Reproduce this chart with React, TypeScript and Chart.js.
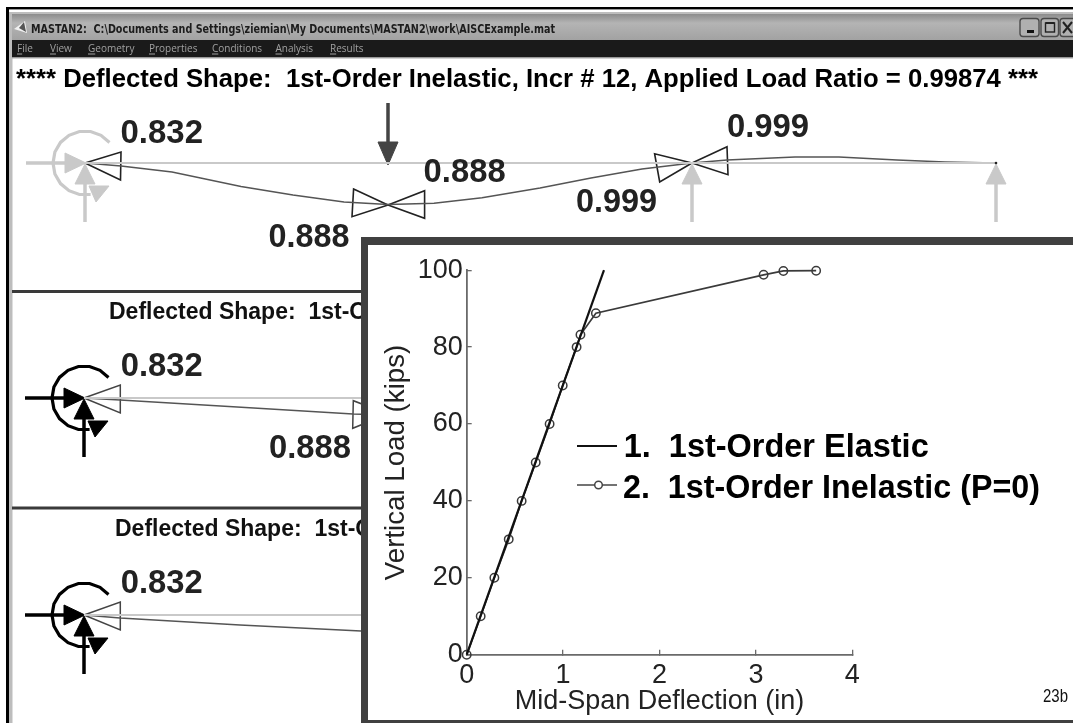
import React, { useEffect, useRef } from "react";
import { Chart, registerables } from "chart.js";

Chart.register(...registerables);

// ---------- load–deflection curves (inset) ----------
const xTicks = [0, 1, 2, 3, 4];
const yTicks = [0, 20, 40, 60, 80, 100];
const elasticDeflection = [0, 1.424];
const elasticLoad = [0, 100];
const inelasticDeflection = [0, 0.145, 0.287, 0.436, 0.57, 0.716, 0.86, 0.996, 1.14, 1.18, 1.34, 3.08, 3.285, 3.625];
const inelasticLoad = [0, 10, 20, 30, 40, 50, 60, 70, 80, 83.2, 88.8, 98.8, 99.8, 99.87];
const legendLabels = ["1.  1st-Order Elastic", "2.  1st-Order Inelastic (P=0)"];
const xAxisTitle = "Mid-Span Deflection (in)";
const yAxisTitle = "Vertical Load (kips)";

// ---------- window texts ----------
const windowTitle = "MASTAN2:  C:\\Documents and Settings\\ziemian\\My Documents\\MASTAN2\\work\\AISCExample.mat";
const menuItems = ["File", "View", "Geometry", "Properties", "Conditions", "Analysis", "Results"];
const menuStops = [17, 50, 88, 149, 212, 275.5, 330];
const panelTitle = "**** Deflected Shape:  1st-Order Inelastic, Incr # 12, Applied Load Ratio = 0.99874 ***";
const subTitle = "Deflected Shape:  1st-Order Inelastic";

// ---------- frame schematic, in sheet units ----------
const curve1X = [85, 121, 172, 241, 293, 344, 388, 434, 482, 540, 591, 642, 692, 727, 795, 839, 897, 945, 996];
const curve1Y = [163, 166, 172, 186.5, 195, 202, 204.5, 203.3, 197.7, 188, 178, 169, 163, 160, 157, 157, 160, 162, 163];
const curve2X = [84, 120, 233, 353, 388];
const curve2Y = [398, 400, 406.7, 414, 415];
const curve3X = [84, 120, 240, 361];
const curve3Y = [615, 618, 625, 631];

const arcX = [24.5, 16, 5.6, -5.6, -16, -24.5, -30.1, -32, -30.1, -24.5, -16, -5.6, 5.6];
const arcY = [-20.6, -27.7, -31.5, -31.5, -27.7, -20.6, -11, 0, 11, 20.6, 27.7, 31.5, 31.5];
const arcHeadX = [4, 24, 11, 4];
const arcHeadY = [23, 23, 39, 23];
const pushShaftX = [-59, -20];
const pushShaftY = [0, 0];
const pushHeadX = [-20, 1, -20, -20];
const pushHeadY = [-10, 0, 10, -10];
const liftShaftX = [0, 0];
const liftShaftY = [59, 20];
const liftHeadX = [-10, 0, 10, -10];
const liftHeadY = [21, 1, 21, 21];
const dropShaftX = [0, 0];
const dropShaftY = [-60, -20];
const dropHeadX = [-10, 0, 10, -10];
const dropHeadY = [-21, 2, -21, -21];

const hingeEndX = [85, 121, 120.5, 85];
const hingeEndY = [163, 152, 180, 163];
const hingeMidLX = [388, 353.6, 352, 388];
const hingeMidLY = [205, 189, 216.7, 205];
const hingeMidRX = [388, 424.6, 424.6, 388];
const hingeMidRY = [205, 190.7, 218.3, 205];
const hingeRightLX = [692, 654.6, 659.7, 692];
const hingeRightLY = [163, 153.7, 182, 163];
const hingeRightRX = [692, 727, 728, 692];
const hingeRightRY = [163, 146.7, 174.7, 163];
const hinge2X = [84, 120.3, 120.3, 84];
const hinge2Y = [398, 385, 413, 398];
const hinge2MidX = [388, 353.3, 352.7, 388];
const hinge2MidY = [414, 400.7, 428.3, 414];
const hinge3X = [84, 120.3, 120.3, 84];
const hinge3Y = [615, 602, 630, 615];

type Lbl = [string, number, number, number];
const ratioLabels: Lbl[] = [
  ["0.832", 120.5, 142.8, 82.5],
  ["0.888", 423.6, 181.7, 82],
  ["0.888", 268.6, 246.7, 81],
  ["0.999", 727, 137, 82],
  ["0.999", 576, 211.7, 81],
  ["0.832", 120.7, 375.7, 82],
  ["0.888", 269, 457.7, 82],
  ["0.832", 120.7, 593.3, 82],
];

const BOLD = "'Liberation Sans', Arial, sans-serif";

const pts = (xs: number[], ys: number[], dx = 0, dy = 0) =>
  xs.map((x, i) => ({ x: x + dx, y: ys[i] + dy }));

const stroke = (data: any[], color: string, width: number) => ({
  data,
  showLine: true,
  borderColor: color,
  borderWidth: width,
  pointRadius: 0,
  fill: false,
  borderCapStyle: "butt" as const,
  borderJoinStyle: "miter" as const,
});
const solid = (data: any[], color: string) => ({
  ...stroke(data, color, 1),
  fill: "shape",
  backgroundColor: color,
});

const support = (color: string, dx: number, dy: number) => [
  stroke(pts(arcX, arcY, dx, dy), color, 3.2),
  solid(pts(arcHeadX, arcHeadY, dx, dy), color),
  stroke(pts(pushShaftX, pushShaftY, dx, dy), color, 3.5),
  solid(pts(pushHeadX, pushHeadY, dx, dy), color),
  stroke(pts(liftShaftX, liftShaftY, dx, dy), color, 3.5),
  solid(pts(liftHeadX, liftHeadY, dx, dy), color),
];
const roller = (color: string, dx: number, dy: number) => [
  stroke(pts(liftShaftX, liftShaftY, dx, dy), color, 3.5),
  solid(pts(liftHeadX, liftHeadY, dx, dy), color),
];

const GREY = "#c9c9c9";

const frameDatasets = [
  stroke(pts([85, 997], [163, 163]), GREY, 2),
  stroke(pts([84, 361], [398, 398]), GREY, 2),
  stroke(pts([84, 361], [615, 615]), GREY, 2),
  ...support(GREY, 85, 163),
  ...roller(GREY, 692, 163),
  ...roller(GREY, 996, 163),
  stroke(pts(dropShaftX, dropShaftY, 388, 163), "#444", 3.5),
  solid(pts(dropHeadX, dropHeadY, 388, 163), "#444"),
  stroke(pts(curve1X, curve1Y), "#555", 1.5),
  stroke(pts(hingeEndX, hingeEndY), "#222", 1.6),
  stroke(pts(hingeMidLX, hingeMidLY), "#222", 1.6),
  stroke(pts(hingeMidRX, hingeMidRY), "#222", 1.6),
  stroke(pts(hingeRightLX, hingeRightLY), "#222", 1.6),
  stroke(pts(hingeRightRX, hingeRightRY), "#222", 1.6),
  stroke(pts(curve2X, curve2Y), "#555", 1.5),
  stroke(pts(hinge2X, hinge2Y), "#444", 1.5),
  stroke(pts(hinge2MidX, hinge2MidY), "#444", 1.5),
  ...support("#000", 84, 398),
  stroke(pts(curve3X, curve3Y), "#555", 1.5),
  stroke(pts(hinge3X, hinge3Y), "#444", 1.5),
  ...support("#000", 84, 615),
];

const windowChrome = {
  id: "windowChrome",
  beforeDatasetsDraw(chart: any) {
    const c = chart.ctx as CanvasRenderingContext2D;
    c.save();
    c.fillStyle = "#fff";
    c.fillRect(0, 0, 1073, 723);
    c.fillStyle = "#000";
    c.fillRect(6, 7, 1067, 2.4);
    c.fillRect(6, 7, 3, 716);
    c.fillStyle = "#bdbdbd";
    c.fillRect(9, 12, 3.5, 711);
    c.fillRect(9, 12, 1064, 2);
    const g = c.createLinearGradient(0, 14, 0, 40);
    g.addColorStop(0, "#8c8c8c");
    g.addColorStop(0.35, "#b4b4b4");
    g.addColorStop(1, "#a2a2a2");
    c.fillStyle = g;
    c.fillRect(12, 14, 1061, 26);
    c.fillStyle = "#1a1a1a";
    c.fillRect(12, 40, 1061, 17.5);
    c.fillStyle = "#a8a8a8";
    c.fillRect(12, 57.5, 1061, 1);
    c.fillStyle = "#3a3a3a";
    c.fillRect(12, 290, 352, 3);
    c.fillRect(12, 506.5, 352, 3);
    // title-bar icon
    c.fillStyle = "#f0f0f0";
    c.beginPath();
    c.moveTo(14, 29);
    c.lineTo(25, 21);
    c.lineTo(27, 33);
    c.closePath();
    c.fill();
    c.fillStyle = "#555";
    c.beginPath();
    c.moveTo(19, 28);
    c.lineTo(24, 22);
    c.lineTo(26, 32);
    c.closePath();
    c.fill();
    // window buttons
    const btn = (x: number, w: number) => {
      c.fillStyle = "#b0b0b0";
      c.strokeStyle = "#4a4a4a";
      c.lineWidth = 1.4;
      c.beginPath();
      c.roundRect(x, 18.5, w, 18, 3);
      c.fill();
      c.stroke();
    };
    btn(1020, 19);
    btn(1041, 17.5);
    btn(1060, 20);
    c.fillStyle = "#111";
    c.fillRect(1027, 30, 7, 3);
    c.strokeStyle = "#222";
    c.lineWidth = 1.4;
    c.strokeRect(1045.5, 23, 9, 9);
    c.fillStyle = "#222";
    c.fillRect(1045.5, 22, 9, 2);
    c.lineWidth = 2;
    c.beginPath();
    c.moveTo(1063, 22);
    c.lineTo(1072, 33);
    c.moveTo(1072, 22);
    c.lineTo(1063, 33);
    c.stroke();
    c.restore();
  },
  afterDatasetsDraw(chart: any) {
    const c = chart.ctx as CanvasRenderingContext2D;
    c.save();
    c.textAlign = "left";
    c.textBaseline = "alphabetic";
    c.fillStyle = "#1c1c1c";
    c.font = "bold 13px 'DejaVu Sans'";
    c.fillText(windowTitle, 31, 33, 524);
    c.font = "10px 'Open Sans'";
    c.fillStyle = "#a0a0a0";
    c.strokeStyle = "#a0a0a0";
    c.lineWidth = 1;
    menuItems.forEach((m, i) => {
      c.fillText(m, menuStops[i], 52);
      const w = c.measureText(m[0]).width;
      c.beginPath();
      c.moveTo(menuStops[i], 54);
      c.lineTo(menuStops[i] + w, 54);
      c.stroke();
    });
    c.fillStyle = "#000";
    c.font = `bold 26px ${BOLD}`;
    c.fillText(panelTitle, 16, 87, 1022);
    c.fillStyle = "#111";
    c.font = `bold 23px ${BOLD}`;
    c.fillText(subTitle, 109, 319.3);
    c.fillText(subTitle, 115, 535.7);
    c.fillStyle = "#222";
    c.font = `bold 33px ${BOLD}`;
    ratioLabels.forEach(([t, x, y, w]) => c.fillText(t, x, y, w));
    c.fillStyle = "#222";
    c.beginPath();
    c.arc(996, 163, 1.3, 0, Math.PI * 2);
    c.fill();
    c.restore();
  },
};

const insetKey = {
  id: "insetKey",
  afterDatasetsDraw(chart: any) {
    const c = chart.ctx as CanvasRenderingContext2D;
    const ox = 368;
    const oy = 245;
    c.save();
    c.textAlign = "left";
    c.textBaseline = "alphabetic";
    c.fillStyle = "#000";
    c.font = `bold 33px ${BOLD}`;
    c.fillText(legendLabels[0], 623.7 - ox, 456.7 - oy, 305);
    c.fillText(legendLabels[1], 623 - ox, 498 - oy, 417);
    c.strokeStyle = "#111";
    c.lineWidth = 1.8;
    c.beginPath();
    c.moveTo(577 - ox, 446 - oy);
    c.lineTo(617 - ox, 446 - oy);
    c.stroke();
    c.strokeStyle = "#444";
    c.lineWidth = 1.5;
    c.beginPath();
    c.moveTo(577 - ox, 485 - oy);
    c.lineTo(617 - ox, 485 - oy);
    c.stroke();
    c.beginPath();
    c.arc(598.5 - ox, 485 - oy, 3.8, 0, Math.PI * 2);
    c.fillStyle = "#fff";
    c.fill();
    c.stroke();
    c.fillStyle = "#111";
    c.font = `18px ${BOLD}`;
    c.fillText("23b", 1043 - ox, 702 - oy, 25);
    c.restore();
  },
};

export default function App() {
  const frameRef = useRef<HTMLCanvasElement>(null);
  const insetRef = useRef<HTMLCanvasElement>(null);

  useEffect(() => {
    document.documentElement.style.overflow = "hidden";
    document.body.style.margin = "0";

    const frame = new Chart(frameRef.current!, {
      type: "scatter",
      data: { datasets: frameDatasets as any },
      plugins: [windowChrome],
      options: {
        responsive: false,
        animation: false,
        events: [],
        layout: { padding: 0 },
        plugins: { legend: { display: false }, tooltip: { enabled: false } },
        scales: {
          x: { type: "linear", min: 0, max: 1073, display: false },
          y: { type: "linear", min: 0, max: 723, reverse: true, display: false },
        },
      },
    });

    const axisFont = { family: "'Liberation Sans', Arial, sans-serif", size: 27 };
    const titleFont = { family: "'Liberation Sans', Arial, sans-serif", size: 27 };
    const yTitleFont = { family: "'Liberation Sans', Arial, sans-serif", size: 27.7 };

    const inset = new Chart(insetRef.current!, {
      type: "scatter",
      data: {
        datasets: [
          {
            label: legendLabels[0],
            data: pts(elasticDeflection, elasticLoad),
            showLine: true,
            borderColor: "#111",
            borderWidth: 2.2,
            pointRadius: 0,
          },
          {
            label: legendLabels[1],
            data: pts(inelasticDeflection, inelasticLoad),
            showLine: true,
            borderColor: "#3a3a3a",
            borderWidth: 1.7,
            pointRadius: 4.2,
            pointBorderColor: "#3a3a3a",
            pointBorderWidth: 1.5,
            pointBackgroundColor: "rgba(255,255,255,0)",
          },
        ] as any,
      },
      plugins: [insetKey],
      options: {
        responsive: false,
        animation: false,
        events: [],
        clip: false as any,
        layout: { padding: { left: 4, top: 24, right: 220.7, bottom: 0 } },
        plugins: { legend: { display: false }, tooltip: { enabled: false } },
        scales: {
          x: {
            type: "linear",
            min: 0,
            max: 4,
            afterFit: (s: any) => {
              s.height = 64.3;
            },
            afterBuildTicks: (s: any) => {
              s.ticks = xTicks.map((value) => ({ value }));
            },
            border: { display: true, color: "#6a6a6a", width: 1.8 },
            grid: { drawOnChartArea: false, drawTicks: true, tickLength: -5, color: "#6a6a6a", lineWidth: 1.3 },
            ticks: { color: "#222", font: axisFont, padding: 10, maxRotation: 0, autoSkip: false },
            title: { display: true, text: xAxisTitle, color: "#222", font: titleFont, padding: { top: -1, bottom: 1 } },
          },
          y: {
            type: "linear",
            min: 0,
            max: 100,
            afterFit: (s: any) => {
              s.width = 94.7;
            },
            afterBuildTicks: (s: any) => {
              s.ticks = yTicks.map((value) => ({ value }));
            },
            border: { display: true, color: "#6a6a6a", width: 1.8 },
            grid: { drawOnChartArea: false, drawTicks: true, tickLength: -5, color: "#6a6a6a", lineWidth: 1.3 },
            ticks: { color: "#222", font: axisFont, padding: 9, autoSkip: false },
            title: { display: true, text: yAxisTitle, color: "#222", font: yTitleFont, padding: { top: 8, bottom: 0 } },
          },
        },
      },
    });

    return () => {
      frame.destroy();
      inset.destroy();
    };
  }, []);

  return (
    <div style={{ position: "fixed", left: 0, top: 0, width: 1073, height: 723, overflow: "hidden", background: "#fff", filter: "blur(0.45px)" }}>
      <canvas ref={frameRef} width={1073} height={723} style={{ position: "absolute", left: 0, top: 0 }} />
      <div
        style={{
          position: "absolute",
          left: 361,
          top: 237,
          width: 712,
          height: 486,
          boxSizing: "border-box",
          background: "#fff",
          borderLeft: "7px solid #404040",
          borderTop: "8px solid #404040",
          borderBottom: "3.5px solid #404040",
        }}
      />
      <canvas ref={insetRef} width={705} height={474} style={{ position: "absolute", left: 368, top: 245 }} />
    </div>
  );
}
